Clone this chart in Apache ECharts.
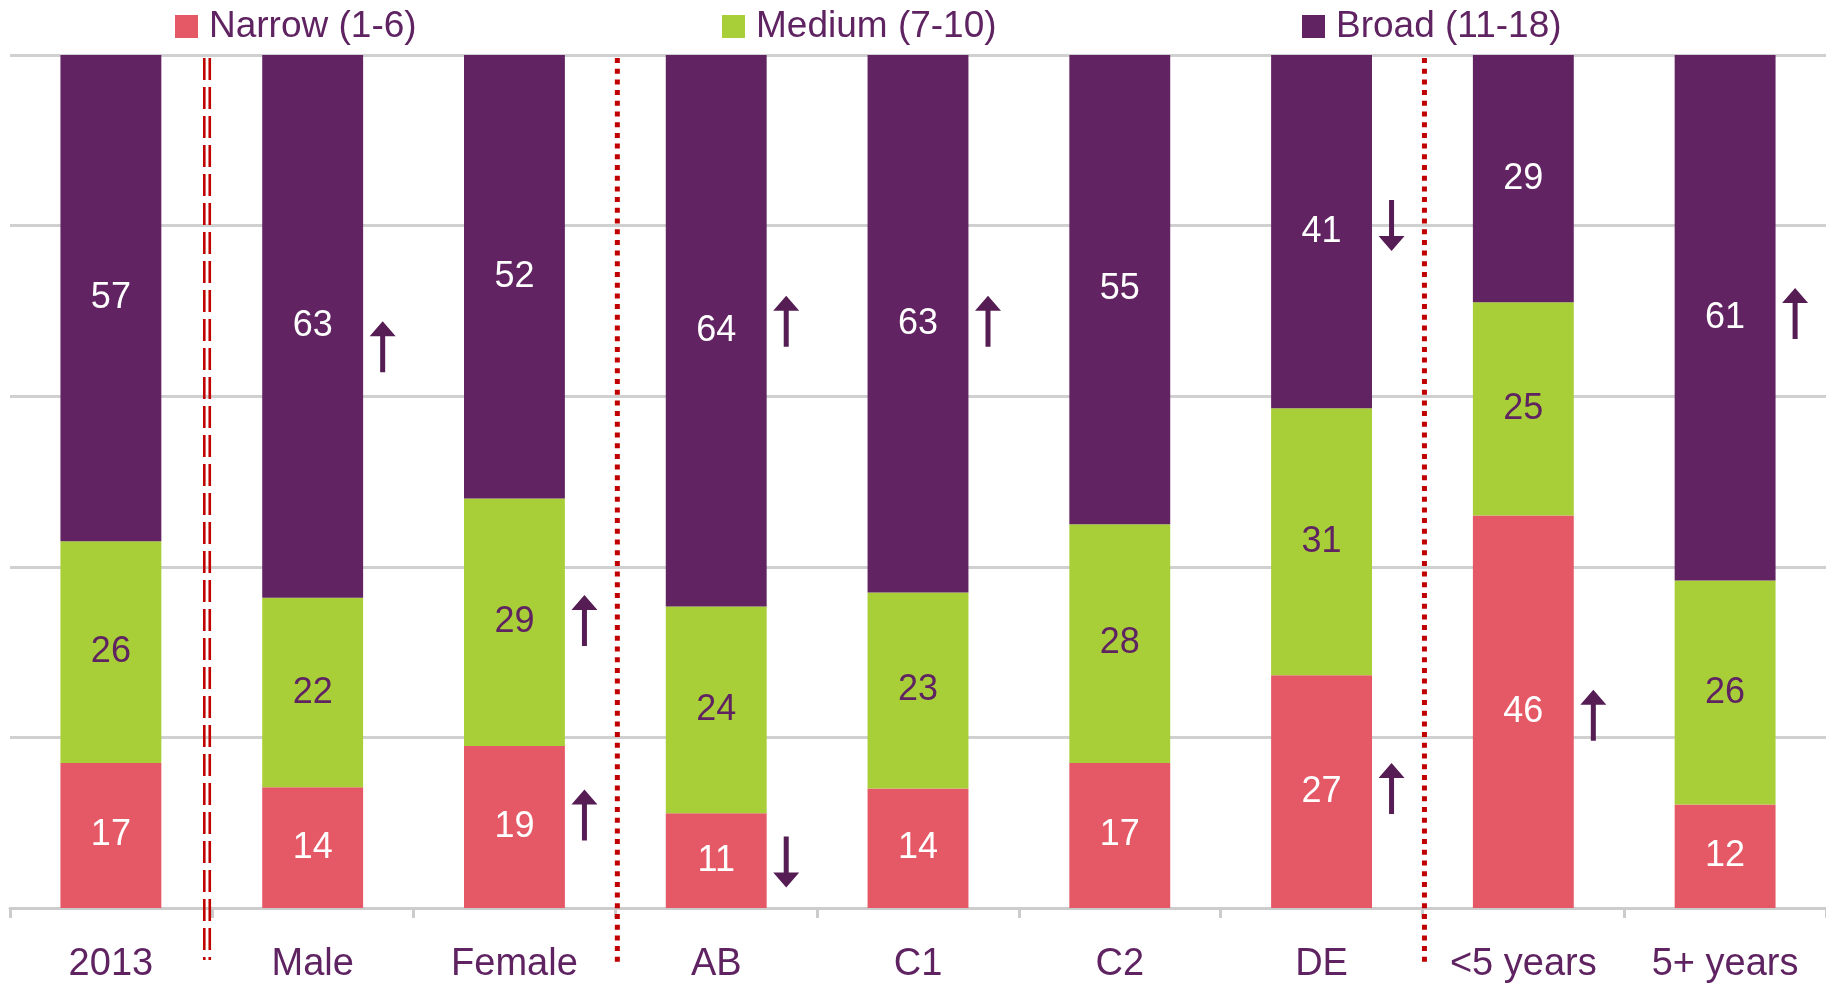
<!DOCTYPE html>
<html>
<head>
<meta charset="utf-8">
<script src="https://cdn.jsdelivr.net/npm/echarts@6/dist/echarts.min.js"></script>
<style>
  html, body { margin: 0; padding: 0; background: #fff; }
  #main { width: 1826px; height: 987px; }
</style>
</head>
<body>
<div id="main"></div>
<script>
const categories = ['2013', 'Male', 'Female', 'AB', 'C1', 'C2', 'DE', '<5 years', '5+ years']
const narrow = [17, 14, 19, 11, 14, 17, 27, 46, 12]
const medium = [26, 22, 29, 24, 23, 28, 31, 25, 26]
const broad = [57, 63, 52, 64, 63, 55, 41, 29, 61]
const seriesNames = ['Narrow (1-6)', 'Medium (7-10)', 'Broad (11-18)']
const yTicks = [0, 20, 40, 60, 80, 100]

// significance arrows: category index, level on the 0-100 scale, direction
const arrowCats = [1, 2, 2, 3, 3, 4, 6, 6, 7, 8]
const arrowLevels = [65.8, 33.7, 10.9, 68.8, 5.4, 68.8, 80.0, 14.0, 22.6, 69.7]
const arrowDirs = ['up', 'up', 'up', 'up', 'down', 'up', 'down', 'up', 'up', 'up']

// dividers sit between these category pairs
const doubleDividers = [1]
const dottedDividers = [3, 7]

const purple = '#612362'
const green = '#a9cf38'
const pink = '#e55966'
const textPurple = '#5f2362'
const font = '"Liberation Sans", Arial, sans-serif'

// 100% stacked, like the original
const raw = [narrow, medium, broad]
const totals = categories.map((c, i) => narrow[i] + medium[i] + broad[i])
const pct = raw.map(arr => arr.map((v, i) => v / totals[i] * 100))

const arrowData = arrowCats.map((c, k) => ({
  value: [c, arrowLevels[k]],
  symbolRotate: arrowDirs[k] === 'down' ? 180 : 0
}))

const colors = [pink, green, purple]
const labelColors = ['#ffffff', textPurple, '#ffffff']

const chart = echarts.init(document.getElementById('main'))

const barSeries = seriesNames.map((name, s) => ({
  name: name,
  type: 'bar',
  stack: 'total',
  barWidth: '50%',
  data: pct[s],
  itemStyle: { color: colors[s] },
  label: {
    show: true,
    position: 'inside',
    color: labelColors[s],
    fontSize: 36,
    fontFamily: font,
    formatter: p => raw[s][p.dataIndex]
  }
}))

const legendLefts = [170, 717, 1297]

const option = {
  animation: false,
  legend: seriesNames.map((name, s) => ({
    data: [name],
    left: legendLefts[s],
    top: 3,
    icon: 'rect',
    itemWidth: 23,
    itemHeight: 23,
    textStyle: { color: textPurple, fontSize: 37, fontFamily: font, padding: [0, 0, 0, 6] }
  })),
  grid: {
    left: 10,
    right: 0,
    top: 55,
    bottom: 79
  },
  xAxis: {
    type: 'category',
    data: categories,
    axisLine: { lineStyle: { color: '#cccccc', width: 3 } },
    axisTick: { show: true, length: 10, lineStyle: { color: '#cccccc', width: 3 } },
    axisLabel: { color: textPurple, fontSize: 38, fontFamily: font, margin: 38 }
  },
  yAxis: {
    type: 'value',
    min: yTicks[0],
    max: yTicks[yTicks.length - 1],
    interval: 20,
    axisLabel: { show: false },
    axisLine: { show: false },
    axisTick: { show: false },
    splitLine: { lineStyle: { color: '#d0d0d0', width: 3 } }
  },
  series: barSeries.concat([{
    type: 'scatter',
    data: arrowData,
    symbol: 'path://M13,0 L26,15 L15.5,15 L15.5,51 L10.5,51 L10.5,15 L0,15 Z',
    symbolSize: [26, 51],
    symbolOffset: [70, 0],
    itemStyle: { color: '#561d55', opacity: 1 },
    z: 5,
    silent: true
  }])
}

chart.setOption(option)

// red divider lines between groups
const boundary = i => (chart.convertToPixel({ xAxisIndex: 0 }, i - 1) + chart.convertToPixel({ xAxisIndex: 0 }, i)) / 2
const graphics = []
doubleDividers.forEach(i => {
  const b = boundary(i)
  ;[b - 7.5, b - 2].forEach(x => {
    graphics.push({
      type: 'line',
      shape: { x1: x, y1: 58, x2: x, y2: 960 },
      style: { stroke: '#c00000', lineWidth: 2.6, lineDash: [22, 7] },
      z: 10
    })
  })
})
dottedDividers.forEach(i => {
  const x = boundary(i) + 2
  graphics.push({
    type: 'line',
    shape: { x1: x, y1: 58, x2: x, y2: 966 },
    style: { stroke: '#c00000', lineWidth: 5, lineDash: [5, 5.7] },
    z: 10
  })
})
chart.setOption({ graphic: graphics })
</script>
</body>
</html>
